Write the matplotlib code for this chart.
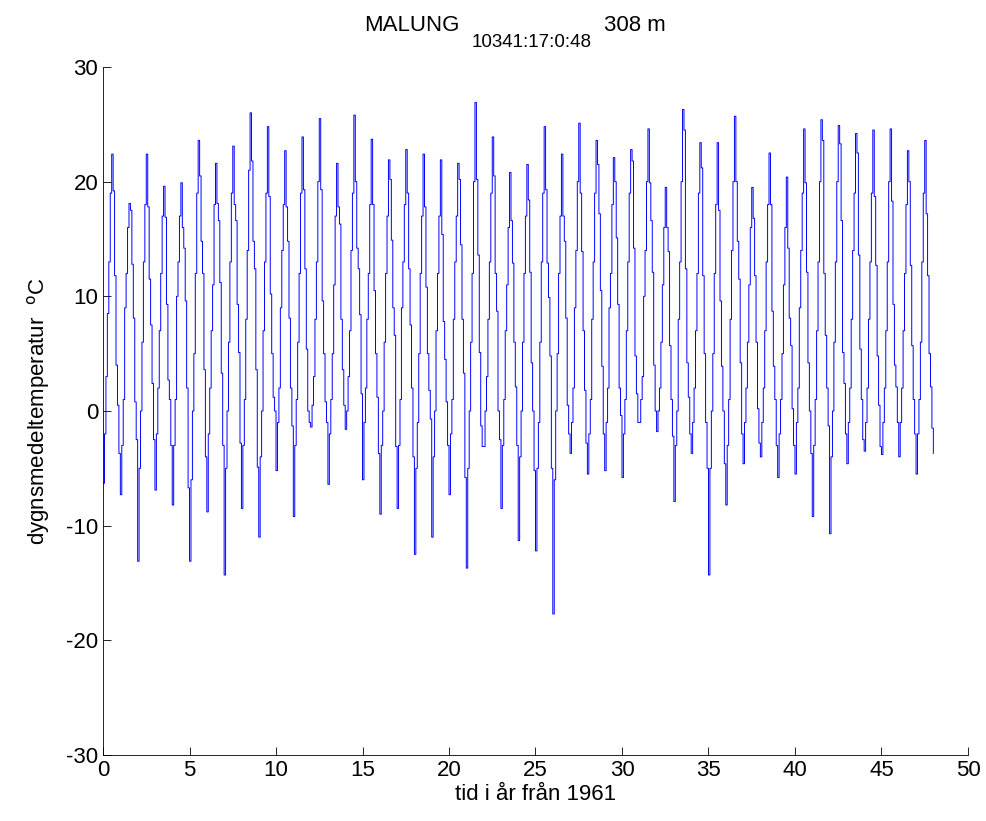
import numpy as np
import matplotlib
matplotlib.use('Agg')
import matplotlib.pyplot as plt

plt.rcParams['font.family'] = ['Liberation Sans', 'DejaVu Sans']
plt.rcParams['axes.unicode_minus'] = False

# dygnsmedeltemperatur, avläst per år (1961 + index) och månadsfas
jan = [-6.3, -7.3, -13.1, -6.9, -8.2, -13.1, -8.8, -14.3, -8.5, -11.0, -5.2, -9.2,
       -1.4, -6.4, -1.6, -6.0, -9.0, -8.5, -12.5, -11.0, -7.3, -13.7, -3.1, -8.5,
       -11.3, -12.2, -17.7, -3.7, -5.5, -5.2, -5.8, -1.0, -1.8, -7.9, -3.7, -14.3,
       -8.2, -4.6, -4.0, -5.8, -5.5, -9.2, -10.7, -4.6, -3.5, -3.8, -4.0, -5.5]
feb = [-2, -3, -5, -2, -3, -6, -2, -5, -3, -4, -1, -3, 0.5, -2, 0, -1, -3, -3, -5, -4,
       -2, -5, 0, -3, -4, -5, -6, -1, -2, -1, -2, 1, 0, -3, -1, -5, -3, -1, -1, -2,
       -1, -3, -4, -1, -1, -1, -1, -2]
mar = [3, 1, 0, 2, 1, 0, 2, 0, 1, 0, 2, 1, 3, 1, 3, 2, 0, 1, -1, 0, 1, 0, 3, 1, 0,
       -1, 0, 2, 1, 2, 1, 3, 2, 0, 2, 0, 1, 2, 2, 1, 2, 1, 0, 2, 2, 2, 2, 1]
apr = [8.5, 9, 6, 7, 10, 5, 7, 6, 8, 7, 9, 6, 8, 5, 7, 8, 6, 9, 5, 7, 8, 6, 8, 7, 6,
       6, 5, 9, 8, 9, 7, 10, 6, 8, 7, 5, 8, 6, 7, 5, 9, 7, 6, 8, 8, 7, 7, 6]
may = [13, 12, 13, 12, 13, 12, 11, 13, 14, 13, 14, 12, 13, 11, 14, 12, 12, 13, 12, 12,
       13, 12, 13, 11, 12, 13, 12, 14, 13, 12, 13, 14, 11, 13, 12, 12, 14, 11, 13, 11,
       14, 13, 13, 14, 13, 13, 12, 13]
jun = [19, 16, 18, 17, 17, 19, 18, 19, 21, 19, 18, 19, 20, 17, 19, 18, 17, 18, 17, 17,
       17, 20, 19, 16, 17, 19, 17, 20, 19, 18, 19, 20, 16, 20, 19, 18, 20, 16, 18, 16,
       19, 20, 20, 19, 19, 20, 18, 19]
jul = [22.4, 18.1, 22.4, 19.6, 19.9, 23.6, 21.6, 23.1, 26.0, 24.8, 22.7, 23.9,
       25.5, 21.6, 25.8, 23.7, 21.9, 22.8, 22.4, 21.9, 21.6, 26.9, 23.9, 20.8,
       21.5, 24.8, 22.4, 25.1, 23.6, 22.1, 22.8, 24.6, 19.5, 26.3, 23.4, 23.4,
       25.7, 19.5, 22.5, 20.4, 24.6, 25.4, 24.9, 24.2, 24.5, 24.6, 22.7, 23.6]
aug = [19.2, 17.5, 17.8, 16.9, 16.0, 20.5, 18.1, 18.0, 21.8, 18.7, 17.8, 19.3,
       19.3, 17.8, 20.0, 18.0, 20.2, 19.0, 17.8, 15.4, 20.2, 20.2, 20.5, 16.6,
       18.4, 19.3, 17.0, 19.0, 21.5, 20.0, 21.8, 19.9, 16.0, 24.5, 21.2, 17.5,
       20.0, 16.8, 18.0, 14.2, 19.9, 23.6, 23.3, 22.5, 18.7, 18.3, 20.0, 17.2]
sep = [11.8, 12.8, 11.5, 9.3, 14.2, 14.8, 16.6, 16.6, 14.8, 10.2, 14.8, 12.4,
       9.6, 16.3, 14.2, 10.5, 14.9, 12.4, 10.8, 7.8, 14.5, 13.6, 12.0, 12.9,
       12.1, 12.9, 14.8, 13.9, 17.2, 15.1, 14.2, 16.6, 13.9, 12.4, 11.8, 9.6,
       14.8, 11.8, 8.7, 8.1, 12.1, 12.0, 16.6, 13.6, 12.7, 9.3, 12.7, 11.8]
okt = [4.0, 8.1, 7.5, 2.7, 9.6, 12.0, 11.2, 9.3, 12.4, 5.0, 8.1, 5.4,
       5.0, 8.0, 12.4, 5.0, 9.0, 7.5, 5.0, 4.5, 8.0, 5.1, 8.7, 6.0,
       4.2, 9.9, 8.1, 7.0, 10.5, 9.3, 4.8, 12.1, 5.7, 4.2, 5.0, 3.9,
       11.5, 6.0, 3.9, 5.7, 4.2, 6.6, 5.1, 5.4, 4.8, 4.0, 5.7, 5.0]
nov = [0.5, 0.8, 2.4, 1.0, 2.0, 3.6, 3.3, 5.1, 3.6, 1.2, 2.0, 0.0,
       0.8, 3.6, 8.4, 1.2, 6.6, 2.0, 1.8, 0.8, 3.3, -1.3, 0.0, 2.1,
       0.0, 4.8, 0.5, 1.8, 3.9, 2.0, 1.5, 4.0, 1.0, 1.2, -1.0, 0.0,
       4.2, 0.2, 1.0, 0.2, 0.0, 2.0, 2.4, 1.0, 0.5, 2.1, 1.0, 2.1]
dec = [-3.7, -2.5, -2.5, -3.0, -6.7, -4.0, -3.0, -2.8, -4.9, 0.0, -1.3, -1.0,
       -1.0, 0.5, 1.5, -3.7, -3.1, -4.0, -0.7, -3.0, -5.8, -3.1, -2.5, -3.0,
       -5.2, -5.0, -2.0, -2.8, -2.0, -0.4, -1.0, 0.0, -2.2, -2.0, -5.0, -4.6,
       -2.0, -2.8, -3.0, -3.0, -3.7, -1.3, -2.0, -2.5, -3.1, -1.0, -2.0, -1.5]
last_value = -3.7

temp = np.column_stack([jan, feb, mar, apr, may, jun, jul, aug, sep, okt, nov, dec]).ravel()
temp = np.append(temp, last_value)
tid = np.arange(len(temp)) / 12.0

fig = plt.figure(figsize=(9.87, 8.21), dpi=100)
ax = fig.add_axes([0.1044, 0.0804, 0.8763, 0.838])
ax.plot(tid, temp, color='#0000ff', linewidth=0.7, drawstyle='steps-post')

ax.set_xlim(0, 50)
ax.set_ylim(-30, 30)
ax.set_xticks(np.arange(0, 51, 5))
ax.set_yticks(np.arange(-30, 31, 10))
ax.tick_params(direction='in', length=6, labelsize=16, width=0.6)
ax.spines['top'].set_visible(False)
ax.spines['right'].set_visible(False)
ax.spines['left'].set_linewidth(0.6)
ax.spines['bottom'].set_linewidth(0.6)

# titel med nedsänkt stationsnummer
fig.text(0.369, 0.969, 'MALUNG', fontsize=16, ha='left', va='center')
fig.text(0.478, 0.948, '10341:17:0:48', fontsize=13.5, ha='left', va='center')
fig.text(0.612, 0.969, '308 m', fontsize=16, ha='left', va='center')

ax.set_xlabel('tid i år från 1961', fontsize=16, labelpad=2)
ax.set_ylabel(r'dygnsmedeltemperatur  $^{\mathrm{o}}$C', fontsize=16, labelpad=10)

fig.savefig('out.png', dpi=100)
